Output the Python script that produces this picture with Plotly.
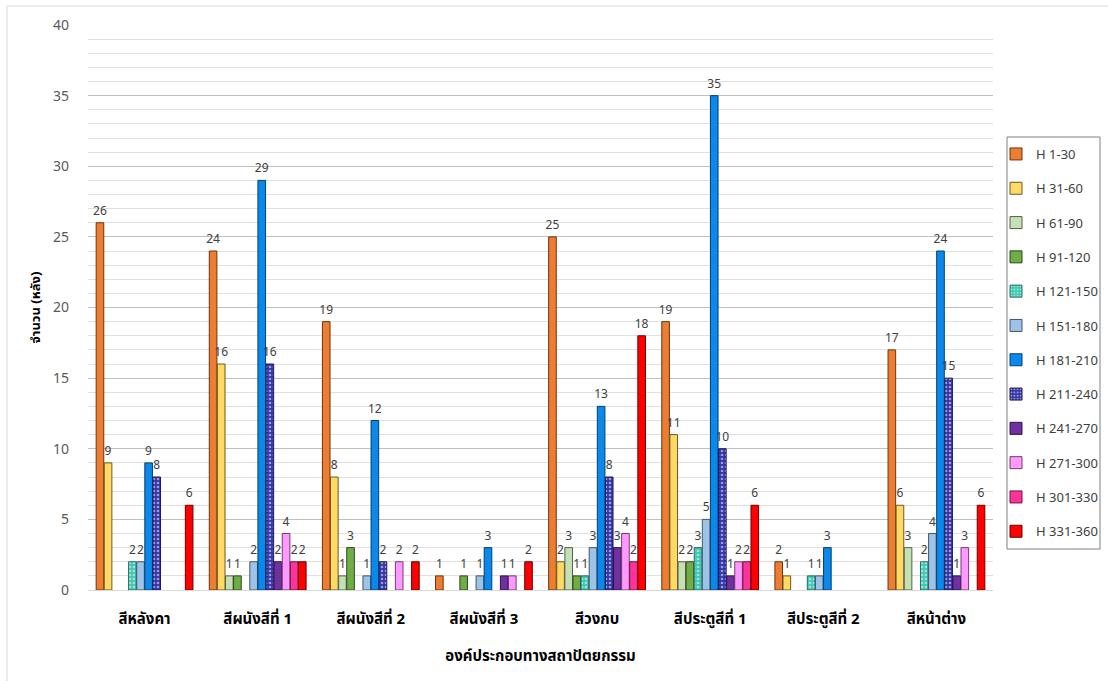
import plotly.graph_objects as go

# Architectural elements (x-axis categories)
categories = ["สีหลังคา", "สีผนังสีที่ 1", "สีผนังสีที่ 2", "สีผนังสีที่ 3",
              "สีวงกบ", "สีประตูสีที่ 1", "สีประตูสีที่ 2", "สีหน้าต่าง"]

# Hue ranges (series)
series_names = ["H 1-30", "H 31-60", "H 61-90", "H 91-120", "H 121-150", "H 151-180",
                "H 181-210", "H 211-240", "H 241-270", "H 271-300", "H 301-330", "H 331-360"]

# Number of houses per element for each hue range (None = no houses)
h_1_30 = [26, 24, 19, 1, 25, 19, 2, 17]
h_31_60 = [9, 16, 8, None, 2, 11, 1, 6]
h_61_90 = [None, 1, 1, None, 3, 2, None, 3]
h_91_120 = [None, 1, 3, 1, 1, 2, None, None]
h_121_150 = [2, None, None, None, 1, 3, 1, 2]
h_151_180 = [2, 2, 1, 1, 3, 5, 1, 4]
h_181_210 = [9, 29, 12, 3, 13, 35, 3, 24]
h_211_240 = [8, 16, 2, None, 8, 10, None, 15]
h_241_270 = [None, 2, None, 1, 3, 1, None, 1]
h_271_300 = [None, 4, 2, 1, 4, 2, None, 3]
h_301_330 = [None, 2, None, None, 2, 2, None, None]
h_331_360 = [6, 2, 2, 2, 18, 6, None, 6]

values = [h_1_30, h_31_60, h_61_90, h_91_120, h_121_150, h_151_180,
          h_181_210, h_211_240, h_241_270, h_271_300, h_301_330, h_331_360]

colors = ["#ED7D31", "#FFD966", "#C5E0B4", "#70AD47", "#3DC9B5", "#9DC3E6",
          "#0A88EC", "#3434A8", "#7030A0", "#FF99FF", "#FF3399", "#FF0000"]
outlines = ["#6B3410", "#6B5A20", "#55604D", "#2E4A1D", "#2A6B60", "#44566A",
            "#063E6B", "#1A1A55", "#2E1444", "#6B406B", "#6B1540", "#6B0000"]
dotted = {"H 121-150", "H 211-240"}

thai_font = "Tahoma, 'Noto Sans Thai', 'Leelawadee UI', 'DejaVu Sans', sans-serif"

fig = go.Figure()
for name, vals, col, line in zip(series_names, values, colors, outlines):
    marker = dict(color=col, line=dict(color=line, width=1))
    if name in dotted:
        marker["pattern"] = dict(shape=".", fgcolor="white", size=4, solidity=0.35)
    fig.add_trace(go.Bar(
        name=name,
        x=categories,
        y=vals,
        marker=marker,
        texttemplate="%{y}",
        textposition="outside",
        constraintext="none",
        cliponaxis=False,
        textfont=dict(size=12, color="#404040", family=thai_font),
        legendgroup=name,
    ))

# Minor gridlines at every unit, drawn under the bars
minor_vals = [v for v in range(1, 40) if v % 5 != 0]

plot_left, plot_right = 88, 993
plot_w = plot_right - plot_left
plot_top, plot_bottom = 25, 590
plot_h = plot_bottom - plot_top


def px_x(px):
    return (px - plot_left) / plot_w


def px_y(py):
    return (plot_bottom - py) / plot_h


fig.update_layout(
    width=1108,
    height=681,
    barmode="group",
    bargap=0.14,
    bargroupgap=0.06,
    plot_bgcolor="white",
    paper_bgcolor="white",
    margin=dict(l=plot_left, r=1108 - plot_right, t=plot_top, b=681 - plot_bottom,
                autoexpand=False),
    font=dict(family=thai_font, color="#404040"),
    xaxis=dict(
        showgrid=False,
        showline=True,
        linecolor="#D9D9D9",
        linewidth=1,
        ticks="",
        tickmode="array",
        tickvals=categories,
        ticktext=[f"<b>{c}</b>" for c in categories],
        ticklabelstandoff=15,
        tickfont=dict(size=15, color="#000000", family=thai_font),
        title=dict(text="<b>องค์ประกอบทางสถาปัตยกรรม</b>",
                   font=dict(size=15, color="#000000"), standoff=20),
    ),
    yaxis=dict(
        range=[0, 40],
        dtick=5,
        tick0=0,
        showgrid=True,
        gridcolor="#BFBFBF",
        gridwidth=1,
        zeroline=False,
        minor=dict(tickvals=minor_vals, showgrid=True, gridcolor="#E0E0E0", gridwidth=1),
        tickfont=dict(size=14, color="#595959"),
        ticklabelstandoff=18,
        title=dict(text="<b>จำนวน (หลัง)</b>", font=dict(size=13, color="#000000"), standoff=9),
    ),
    legend=dict(
        x=px_x(996),
        xanchor="left",
        y=px_y(139),
        yanchor="top",
        borderwidth=0,
        bgcolor="rgba(0,0,0,0)",
        font=dict(size=13, color="#404040"),
        traceorder="grouped",
        tracegroupgap=14.4,
        itemclick=False,
    ),
    shapes=[
        # outer chart frame
        dict(type="rect", xref="paper", yref="paper",
             x0=px_x(7), x1=px_x(1120), y0=px_y(700), y1=px_y(6),
             line=dict(color="#D9D9D9", width=1), layer="below"),
        # legend frame
        dict(type="rect", xref="paper", yref="paper",
             x0=px_x(1007), x1=px_x(1100), y0=px_y(549), y1=px_y(137),
             line=dict(color="#808080", width=1), layer="below"),
    ],
)

fig.write_html("out.html")
